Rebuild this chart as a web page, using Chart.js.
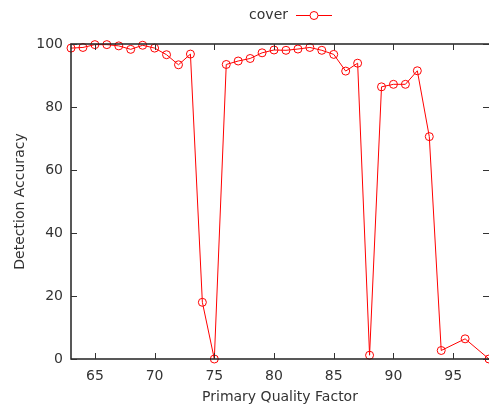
<!DOCTYPE html>
<html>
<head>
<meta charset="utf-8">
<script src="https://cdn.jsdelivr.net/npm/chart.js@4"></script>
<style>
html,body{margin:0;padding:0;background:#fff;}
#wrap{width:489px;height:409px;}
</style>
</head>
<body>
<div id="wrap"><canvas id="c" width="489" height="409"></canvas></div>
<script>
const qualityFactors = [63,64,65,66,67,68,69,70,71,72,73,74,75,76,77,78,79,80,81,82,83,84,85,86,87,88,89,90,91,92,93,94,96,98];
const coverAccuracy = [98.7,98.9,99.8,99.8,99.4,98.3,99.6,98.7,96.6,93.4,96.8,18.0,0.0,93.5,94.6,95.4,97.2,98.1,98.0,98.4,98.9,98.0,96.7,91.4,93.9,1.2,86.4,87.2,87.2,91.5,70.6,2.7,6.4,0.0];
const xTickValues = [65,70,75,80,85,90,95];
const yTickValues = [0,20,40,60,80,100];
const seriesName = 'cover';

const FONT = "'DejaVu Sans', sans-serif";
const TXT = '#333333';

const framePlugin = {
  id: 'frame',
  afterDatasetsDraw(chart) {
    const {ctx, chartArea: a, scales} = chart;
    ctx.save();
    ctx.strokeStyle = '#222';
    ctx.lineWidth = 1.5;
    ctx.beginPath();
    ctx.moveTo(a.right, a.top); ctx.lineTo(a.left, a.top);
    ctx.lineTo(a.left, a.bottom); ctx.lineTo(a.right, a.bottom);
    ctx.stroke();
    ctx.strokeStyle = '#333';
    ctx.lineWidth = 1;
    const L = 6;
    ctx.beginPath();
    xTickValues.forEach(v => {
      const x = Math.round(scales.x.getPixelForValue(v)) + 0.5;
      ctx.moveTo(x, a.bottom); ctx.lineTo(x, a.bottom - L);
      ctx.moveTo(x, a.top); ctx.lineTo(x, a.top + L);
    });
    yTickValues.forEach(v => {
      const y = Math.round(scales.y.getPixelForValue(v)) + 0.5;
      ctx.moveTo(a.left, y); ctx.lineTo(a.left + L, y);
      ctx.moveTo(a.right, y); ctx.lineTo(a.right - L, y);
    });
    ctx.stroke();
    // legend
    ctx.font = "14px " + FONT;
    ctx.fillStyle = TXT;
    ctx.textAlign = 'right';
    ctx.textBaseline = 'middle';
    ctx.fillText(seriesName, 288, 15);
    ctx.strokeStyle = 'red';
    ctx.lineWidth = 1;
    ctx.beginPath();
    ctx.moveTo(296, 15.5); ctx.lineTo(332, 15.5);
    ctx.stroke();
    ctx.beginPath();
    ctx.arc(314, 15.5, 4, 0, Math.PI * 2);
    ctx.fillStyle = '#fff';
    ctx.fill();
    ctx.stroke();
    ctx.restore();
  }
};

new Chart(document.getElementById('c'), {
  type: 'line',
  data: {
    datasets: [{
      label: seriesName,
      data: qualityFactors.map((q, i) => ({x: q, y: coverAccuracy[i]})),
      borderColor: 'red',
      borderWidth: 1,
      backgroundColor: 'rgba(0,0,0,0)',
      pointStyle: 'circle',
      pointRadius: 4,
      pointBorderWidth: 1,
      pointBorderColor: 'red',
      pointBackgroundColor: 'rgba(0,0,0,0)',
      tension: 0,
      clip: false
    }]
  },
  options: {
    responsive: false,
    animation: false,
    devicePixelRatio: 1,
    layout: {autoPadding: false, padding: {top: 44, left: 0, right: 0, bottom: 0}},
    plugins: {legend: {display: false}, tooltip: {enabled: false}},
    scales: {
      x: {
        type: 'linear',
        min: 63, max: 98,
        afterBuildTicks(s) { s.ticks = xTickValues.map(v => ({value: v})); },
        afterFit(s) { s.height = 50; },
        grid: {display: false, drawTicks: false},
        border: {display: false},
        ticks: {color: TXT, font: {family: FONT, size: 14}, padding: 9, maxRotation: 0, autoSkip: false},
        title: {display: true, text: 'Primary Quality Factor', color: TXT, font: {family: FONT, size: 14}, padding: {top: 0, bottom: 3}}
      },
      y: {
        type: 'linear',
        min: 0, max: 100,
        afterBuildTicks(s) { s.ticks = yTickValues.map(v => ({value: v})); },
        afterFit(s) { s.width = 71; },
        grid: {display: false, drawTicks: false},
        border: {display: false},
        ticks: {color: TXT, font: {family: FONT, size: 14}, padding: 8},
        title: {display: true, text: 'Detection Accuracy', color: TXT, font: {family: FONT, size: 14}, padding: {top: 12, bottom: 0}}
      }
    }
  },
  plugins: [framePlugin]
});
</script>
</body>
</html>
